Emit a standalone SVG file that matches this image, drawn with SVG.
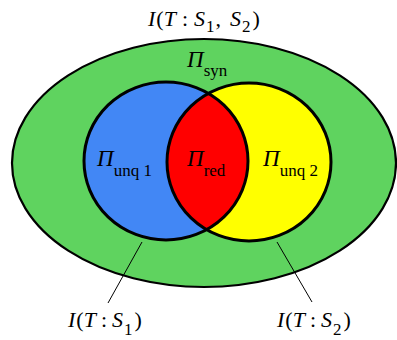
<svg xmlns="http://www.w3.org/2000/svg" width="397" height="340" viewBox="0 0 397 340">
<style>
text{font-family:"Liberation Serif","Times New Roman",serif;fill:#000}
.it{font-style:italic}
.lbl{font-size:22px}
.pi{font-size:23px}
.sub{font-size:17px}
.ring{fill:none;stroke:#000;stroke-width:3}
.lead{stroke:#000;stroke-width:1;fill:none}
</style>
<defs>
<clipPath id="clipL"><ellipse cx="166" cy="161" rx="82" ry="79"/></clipPath>
</defs>
<g id="outer">
<ellipse cx="204" cy="163" rx="192" ry="124" fill="#5fd35f" stroke="#000" stroke-width="2.2"/>
</g>
<g id="set1">
<ellipse cx="166" cy="161" rx="82" ry="79" fill="#4287f5"/>
</g>
<g id="set2">
<ellipse cx="249" cy="162" rx="82" ry="79" fill="#ffff00"/>
</g>
<g id="overlap">
<ellipse cx="249" cy="162" rx="82" ry="79" fill="#ff0000" clip-path="url(#clipL)"/>
</g>
<g id="outlines">
<ellipse class="ring" cx="166" cy="161" rx="82" ry="79"/>
<ellipse class="ring" cx="249" cy="162" rx="82" ry="79"/>
</g>
<g id="connectors">
<line class="lead" x1="142" y1="242" x2="108" y2="303"/>
<line class="lead" x1="277" y1="242" x2="312" y2="302"/>
</g>
<g id="title">
<text class="lbl" x="148" y="26" font-family="Liberation Serif, serif"><tspan class="it">I</tspan><tspan dx="1">(</tspan><tspan class="it">T</tspan><tspan dx="6">:</tspan><tspan class="it" dx="6">S</tspan><tspan class="sub" dy="6" dx="1">1</tspan><tspan dy="-6" dx="1">,</tspan><tspan class="it" dx="9">S</tspan><tspan class="sub" dy="6" dx="1">2</tspan><tspan dy="-6" dx="2">)</tspan></text>
</g>
<g id="syn">
<text x="187" y="67" font-family="Liberation Serif, serif"><tspan class="pi it">Π</tspan><tspan class="sub" dy="9">syn</tspan></text>
</g>
<g id="unq1">
<text x="97" y="166" font-family="Liberation Serif, serif"><tspan class="pi it">Π</tspan><tspan class="sub" dy="10">unq 1</tspan></text>
</g>
<g id="red">
<text x="187" y="166" font-family="Liberation Serif, serif"><tspan class="pi it">Π</tspan><tspan class="sub" dy="10">red</tspan></text>
</g>
<g id="unq2">
<text x="263" y="166" font-family="Liberation Serif, serif"><tspan class="pi it">Π</tspan><tspan class="sub" dy="10">unq 2</tspan></text>
</g>
<g id="label1">
<text class="lbl" x="68" y="327" font-family="Liberation Serif, serif"><tspan class="it">I</tspan><tspan dx="1">(</tspan><tspan class="it">T</tspan><tspan dx="5">:</tspan><tspan class="it" dx="5">S</tspan><tspan class="sub" dy="8" dx="1">1</tspan><tspan dy="-8" dx="2">)</tspan></text>
</g>
<g id="label2">
<text class="lbl" x="277" y="327" font-family="Liberation Serif, serif"><tspan class="it">I</tspan><tspan dx="1">(</tspan><tspan class="it">T</tspan><tspan dx="5">:</tspan><tspan class="it" dx="5">S</tspan><tspan class="sub" dy="8" dx="1">2</tspan><tspan dy="-8" dx="2">)</tspan></text>
</g>
</svg>
